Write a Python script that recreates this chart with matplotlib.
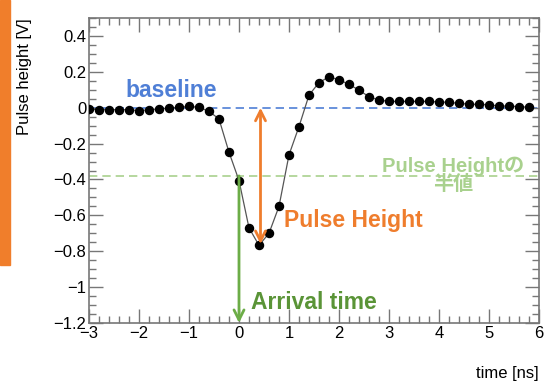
import numpy as np
import matplotlib.pyplot as plt
from matplotlib.patches import Rectangle
from matplotlib.ticker import MultipleLocator

plt.rcParams['font.family'] = ['Liberation Sans', 'Noto Sans CJK JP', 'DejaVu Sans']

# sampled waveform (time in ns, pulse height in V)
time_ns = [-3.0, -2.8, -2.6, -2.4, -2.2, -2.0, -1.8, -1.6, -1.4, -1.2,
           -1.0, -0.8, -0.6, -0.4, -0.2, 0.0, 0.2, 0.4, 0.6, 0.8,
           1.0, 1.2, 1.4, 1.6, 1.8, 2.0, 2.2, 2.4, 2.6, 2.8,
           3.0, 3.2, 3.4, 3.6, 3.8, 4.0, 4.2, 4.4, 4.6, 4.8,
           5.0, 5.2, 5.4, 5.6, 5.8]
height_v = [-0.007, -0.011, -0.011, -0.011, -0.011, -0.017, -0.011, -0.007, -0.002, 0.002,
            0.007, 0.002, -0.020, -0.063, -0.248, -0.406, -0.670, -0.767, -0.700, -0.550,
            -0.263, -0.105, 0.070, 0.140, 0.172, 0.156, 0.130, 0.098, 0.061, 0.043,
            0.035, 0.035, 0.035, 0.035, 0.035, 0.032, 0.030, 0.024, 0.020, 0.018,
            0.017, 0.009, 0.009, 0.006, 0.002]

baseline = 0.0
half_height = -0.38
peak_time = 0.43
peak_height = -0.76
arrival_time = 0.0

c_blue = '#4f7fd6'
c_orange = '#ef7d2d'
c_lgreen = '#a9d18e'
c_green = '#6cad47'
c_dgreen = '#5a9437'

fig = plt.figure(figsize=(5.51, 3.82), dpi=100)
fig.patches.append(Rectangle((0, 1 - 265 / 382), 10 / 551, 265 / 382,
                             transform=fig.transFigure, color='#f07e2b', zorder=0))
ax = fig.add_axes([89 / 551, 1 - 323 / 382, 450 / 551, 305 / 382])

ax.axhline(baseline, color=c_blue, lw=1.2, ls=(0, (5, 3)), zorder=1)
ax.axhline(half_height, color=c_lgreen, lw=1.2, ls=(0, (5, 3)), zorder=1)

ax.plot(time_ns, height_v, color='#555555', lw=0.9, zorder=3)
ax.plot(time_ns, height_v, 'o', color='black', ms=5.8, zorder=4)

ax.annotate('', xy=(peak_time, peak_height), xytext=(peak_time, baseline),
            arrowprops=dict(arrowstyle='<->', color=c_orange, lw=2,
                            mutation_scale=18, shrinkA=0, shrinkB=0), zorder=5)
ax.annotate('', xy=(arrival_time, -1.2), xytext=(arrival_time, half_height),
            arrowprops=dict(arrowstyle='->', color=c_green, lw=2,
                            mutation_scale=18, shrinkA=0, shrinkB=0), zorder=5)

ax.text(-1.36, 0.094, 'baseline', color=c_blue, fontsize=16.5, fontweight='bold',
        ha='center', va='center')
ax.text(0.9, -0.628, 'Pulse Height', color=c_orange, fontsize=16.5, fontweight='bold',
        ha='left', va='center')
ax.text(0.24, -1.083, 'Arrival time', color=c_dgreen, fontsize=16.5, fontweight='bold',
        ha='left', va='center')
ax.text(4.28, -0.375, 'Pulse Heightの\n半値', color=c_lgreen, fontsize=14.5,
        fontweight='bold', ha='center', va='center', linespacing=0.95)

ax.set_xlim(-3, 6)
ax.set_ylim(-1.2, 0.5)
ax.xaxis.set_major_locator(MultipleLocator(1))
ax.xaxis.set_minor_locator(MultipleLocator(0.2))
ax.yaxis.set_major_locator(MultipleLocator(0.2))
ax.yaxis.set_minor_locator(MultipleLocator(0.05))
ax.set_yticks([0.4, 0.2, 0, -0.2, -0.4, -0.6, -0.8, -1, -1.2])
ax.set_yticklabels(['0.4', '0.2', '0', '\u22120.2', '\u22120.4', '\u22120.6',
                    '\u22120.8', '\u22121', '\u22121.2'])
ax.set_xticks(range(-3, 7))
ax.set_xticklabels([str(v).replace('-', '\u2212') for v in range(-3, 7)])

ax.tick_params(which='both', direction='in', top=True, right=True,
               color='#777777', labelsize=12, pad=2)
ax.tick_params(which='major', length=10, width=1)
ax.tick_params(which='minor', length=5, width=1)
for s in ax.spines.values():
    s.set_color('#777777')
    s.set_linewidth(1.2)

ax.set_ylabel('Pulse height [V]', fontsize=12)
ax.yaxis.set_label_coords(-0.143, 1.0)
ax.yaxis.label.set_va('center')
ax.yaxis.label.set_ha('right')
ax.set_xlabel('time [ns]', fontsize=12)
ax.xaxis.set_label_coords(1.0, -0.14)
ax.xaxis.label.set_ha('right')

fig.savefig('out.png', dpi=100)
